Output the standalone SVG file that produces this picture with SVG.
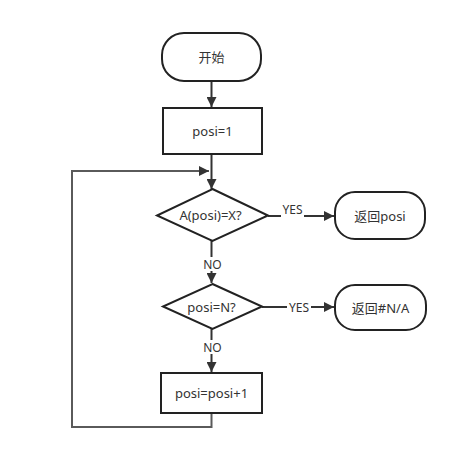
<svg xmlns="http://www.w3.org/2000/svg" width="465" height="462" viewBox="0 0 465 462">
<defs>
<style>
.node{fill:#fff;stroke:#222;stroke-width:2}
.t{font-family:"Noto Sans","Noto Sans CJK SC",sans-serif;font-size:13px;fill:#333;text-anchor:middle;dominant-baseline:central}
.c{fill:none;stroke:#333;stroke-width:2}
.loop{fill:none;stroke:#5a5a5a;stroke-width:2}
.lbl{font-family:"Noto Sans",sans-serif;font-size:12px;fill:#333;text-anchor:middle;dominant-baseline:central}
</style>
<marker id="ah" viewBox="0 0 10 10" refX="10" refY="5" markerWidth="5" markerHeight="5" orient="auto" markerUnits="strokeWidth">
<path d="M0,0 L10,5 L0,10 Z" fill="#333"/>
</marker>
</defs>
<rect width="465" height="462" fill="#fff"/>
<g id="connectors">
<line class="c" x1="211.5" y1="82" x2="211.5" y2="107" marker-end="url(#ah)"/>
<line class="c" x1="211.5" y1="154" x2="211.5" y2="189" marker-end="url(#ah)"/>
<polyline class="loop" points="211.5,413 211.5,427 72,427 72,171 209,171" marker-end="url(#ah)"/>
<line class="c" x1="268" y1="216" x2="281" y2="216"/>
<line class="c" x1="304" y1="216" x2="334" y2="216" marker-end="url(#ah)"/>
<text class="lbl" x="292.5" y="209">YES</text>
<line class="c" x1="211.5" y1="240" x2="211.5" y2="257"/>
<line class="c" x1="211.5" y1="271" x2="211.5" y2="283" marker-end="url(#ah)"/>
<text class="lbl" x="212.5" y="264">NO</text>
<line class="c" x1="262" y1="307" x2="287" y2="307"/>
<line class="c" x1="311" y1="307" x2="334" y2="307" marker-end="url(#ah)"/>
<text class="lbl" x="299" y="307">YES</text>
<line class="c" x1="211.5" y1="329" x2="211.5" y2="340"/>
<line class="c" x1="211.5" y1="354" x2="211.5" y2="372" marker-end="url(#ah)"/>
<text class="lbl" x="212.5" y="347">NO</text>
</g>
<g id="start">
<rect class="node" x="162" y="33" width="99" height="48" rx="22" ry="22"/>
<text class="t" x="211.5" y="57">开始</text>
</g>
<g id="init">
<rect class="node" x="163" y="108" width="99" height="46"/>
<text class="t" x="212.5" y="131">posi=1</text>
</g>
<g id="check1">
<polygon class="node" points="212.5,189 268,215.5 212.5,241 157,215.5"/>
<text class="t" x="210.5" y="215">A(posi)=X?</text>
</g>
<g id="ret1">
<rect class="node" x="335" y="192" width="90" height="47" rx="20" ry="20"/>
<text class="t" x="380" y="215.5">返回posi</text>
</g>
<g id="check2">
<polygon class="node" points="212.5,284 262,306.5 212.5,329 163,306.5"/>
<text class="t" x="211.5" y="307">posi=N?</text>
</g>
<g id="ret2">
<rect class="node" x="335" y="285" width="91" height="45" rx="20" ry="20"/>
<text class="t" x="380.5" y="307.5">返回#N/A</text>
</g>
<g id="incr">
<rect class="node" x="161" y="373" width="101" height="40"/>
<text class="t" x="211.5" y="393">posi=posi+1</text>
</g>
</svg>
